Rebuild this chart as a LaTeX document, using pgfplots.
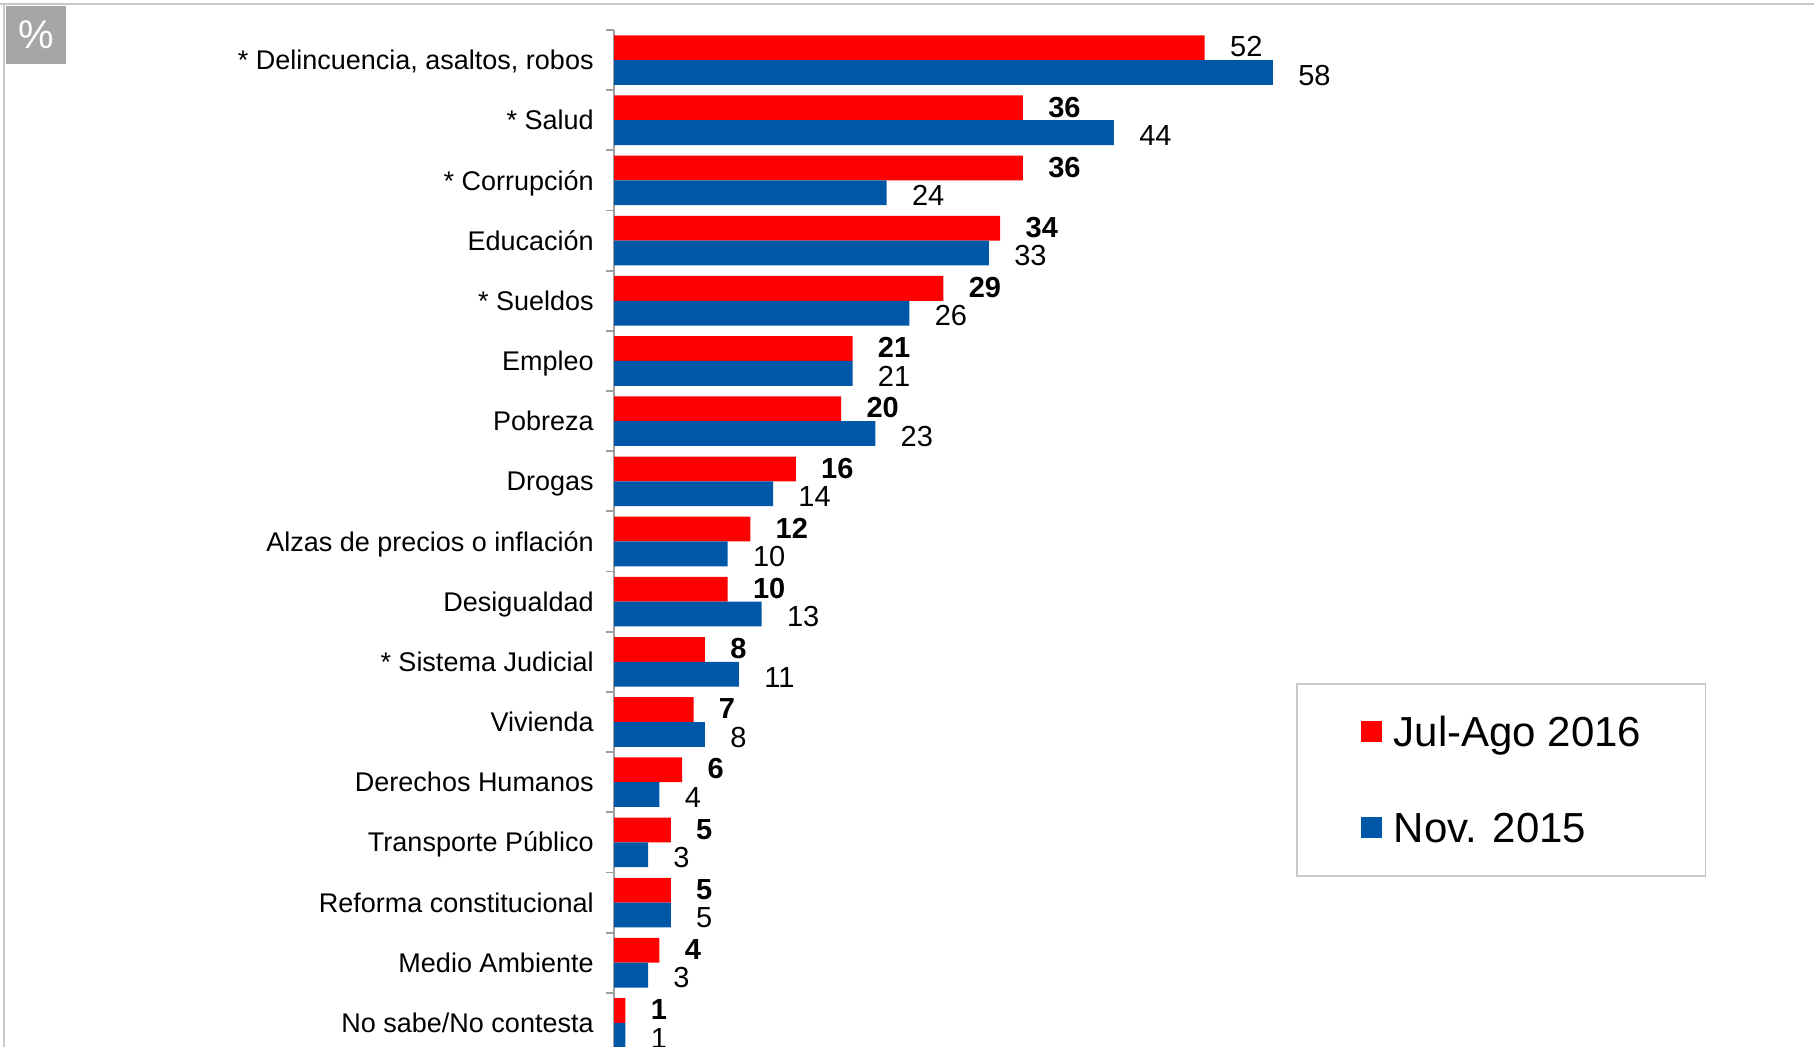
\documentclass[border=0pt]{standalone}
\usepackage{pgfplots}
\pgfplotsset{compat=1.18}
\usepackage{pgfplotstable}
\usepackage{fontspec}
\setmainfont{Liberation Sans}

\definecolor{cRed}{HTML}{FF0000}
\definecolor{cBlue}{HTML}{0057A8}
\definecolor{boxgray}{HTML}{A6A6A6}
\definecolor{framegray}{HTML}{C8C8C8}

\newcommand\B[1]{\textbf{#1}}

% y: 16 = top category; rl = label of the 2016 series
\pgfplotstableread{
y  r  n  rl
16 52 58 52
15 36 44 \B{36}
14 36 24 \B{36}
13 34 33 \B{34}
12 29 26 \B{29}
11 21 21 \B{21}
10 20 23 \B{20}
9  16 14 \B{16}
8  12 10 \B{12}
7  10 13 \B{10}
6  8  11 \B{8}
5  7  8  \B{7}
4  6  4  \B{6}
3  5  3  \B{5}
2  5  5  \B{5}
1  4  3  \B{4}
0  1  1  \B{1}
}\datatable

\begin{document}
\begin{tikzpicture}
\useasboundingbox (0,0) rectangle (907pt,523.5pt);
\draw[framegray, line width=1pt] (0,521.5pt) -- (907pt,521.5pt);
\draw[framegray, line width=1pt] (2pt,0) -- (2pt,521.5pt);
\fill[boxgray] (3pt,491.5pt) rectangle (33pt,520.5pt);
\node[white, font=\fontsize{20}{20}\selectfont] at (18pt,506pt) {\%};

\begin{axis}[
  at={(307pt,-3pt)}, anchor=south west,
  scale only axis, width=568pt, height=511.5pt,
  xmin=0, xmax=100, ymin=-0.5, ymax=16.5,
  axis x line=none, axis y line*=left,
  y axis line style={gray!75, line width=0.9pt},
  ytick={0,...,16},
  yticklabels={No sabe/No contesta, Medio Ambiente, Reforma constitucional,
    Transporte Público, Derechos Humanos, Vivienda, * Sistema Judicial,
    Desigualdad, Alzas de precios o inflación, Drogas, Pobreza, Empleo,
    * Sueldos, Educación, * Corrupción, * Salud, {* Delincuencia, asaltos, robos}},
  major tick length=0pt,
  yticklabel style={font=\fontsize{13.5}{13.5}\selectfont, anchor=east,
    inner sep=0pt, xshift=-10pt, text height=9.6pt, text depth=0pt},
  extra y ticks={-0.5,0.5,...,16.5},
  extra y tick labels={},
  extra y tick style={major tick length=4pt, tick align=outside,
    tick style={gray!75, line width=0.9pt}},
  clip=false,
  /pgf/number format/assume math mode=true,
  every node near coord/.append style={anchor=west, inner sep=0pt, xshift=12.5pt,
    font=\fontsize{14.5}{14.5}\selectfont, text=black},
  legend style={at={(0.6004,0.3617)}, anchor=north west, draw=framegray,
    line width=0.8pt, inner xsep=32pt, inner ysep=16.5pt, column sep=6pt,
    row sep=33pt, font=\fontsize{21}{21}\selectfont,
    nodes={inner sep=0pt, text height=15pt, text depth=0pt}},
  legend cell align=left,
  legend image code/.code={\fill[#1] (0pt,-5.25pt) rectangle (10.5pt,5.25pt);},
]
\addplot[xbar, bar width=12.4pt, bar shift=6.2pt, fill=cRed, draw=none,
  point meta=explicit symbolic, nodes near coords,
  every node near coord/.append style={yshift=6.6pt}]
  table[x=r, y=y, meta=rl] {\datatable};
\addlegendentry{Jul-Ago 2016}
\addplot[xbar, bar width=12.4pt, bar shift=-6.2pt, fill=cBlue, draw=none,
  point meta=x, nodes near coords,
  every node near coord/.append style={yshift=-7.6pt}]
  table[x=n, y=y] {\datatable};
\addlegendentry{Nov. 2015}
\end{axis}
\end{tikzpicture}
\end{document}
